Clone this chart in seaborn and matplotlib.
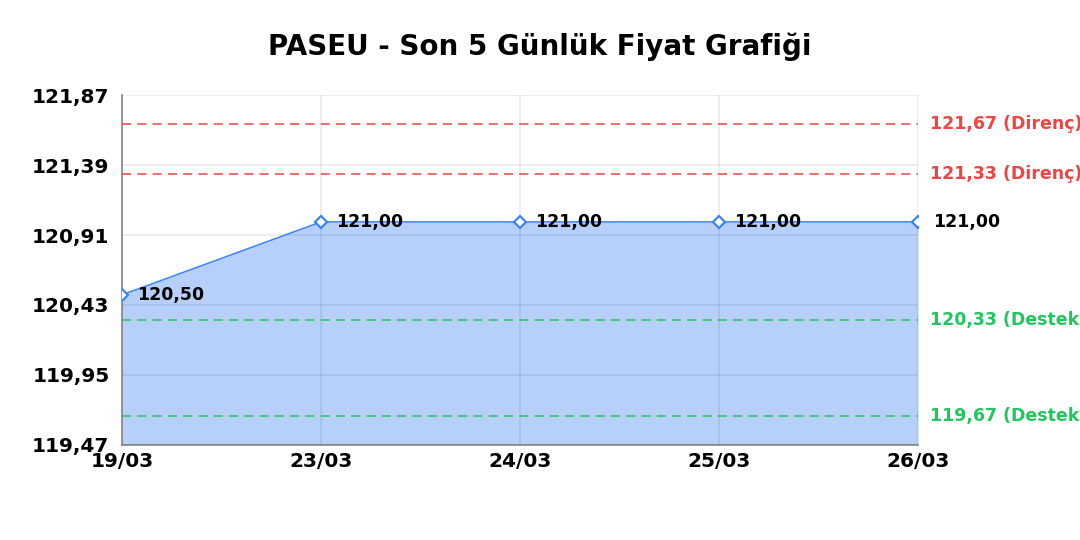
import matplotlib
matplotlib.use('Agg')
import matplotlib.pyplot as plt
import seaborn as sns
import pandas as pd

# chart data
dates = ['19/03', '23/03', '24/03', '25/03', '26/03']
prices = [120.50, 121.00, 121.00, 121.00, 121.00]
resistance = [121.67, 121.33]
support = [120.33, 119.67]
y_ticks = [119.47, 119.95, 120.43, 120.91, 121.39, 121.87]

df = pd.DataFrame({'idx': range(len(dates)), 'price': prices})

sns.set_style('whitegrid')
plt.rcParams['font.family'] = ['DejaVu Sans']
plt.rcParams['text.color'] = 'black'

fig = plt.figure(figsize=(10.8, 5.4), dpi=100)
ax = fig.add_axes([0.113, 0.176, 0.737, 0.648])

blue = '#3b82f6'
ax.fill_between(df['idx'], df['price'], y_ticks[0], color=blue, alpha=0.37, linewidth=0, zorder=1)
sns.lineplot(data=df, x='idx', y='price', ax=ax, color=blue, linewidth=1.1,
             marker='D', markersize=6.5, markerfacecolor='white',
             markeredgecolor=blue, markeredgewidth=1.6, zorder=4)

def fmt(v):
    return f'{v:.2f}'.replace('.', ',')

for i, p in enumerate(prices):
    ax.annotate(fmt(p), (i, p), xytext=(11, 0), textcoords='offset points',
                ha='left', va='center', fontsize=12.5, fontweight='bold',
                color='black', zorder=5, annotation_clip=False)

for r in resistance:
    ax.axhline(r, color='#ef4444', linestyle=(0, (6, 4)), linewidth=1.1, zorder=3)
    ax.annotate(f'{fmt(r)} (Direnç)', (1, r), xycoords=('axes fraction', 'data'),
                xytext=(8.5, 0), textcoords='offset points', ha='left', va='center',
                fontsize=12.5, fontweight='bold', color='#ef4444', annotation_clip=False)
for s in support:
    ax.axhline(s, color='#22c55e', linestyle=(0, (6, 4)), linewidth=1.1, zorder=3)
    ax.annotate(f'{fmt(s)} (Destek)', (1, s), xycoords=('axes fraction', 'data'),
                xytext=(8.5, 0), textcoords='offset points', ha='left', va='center',
                fontsize=12.5, fontweight='bold', color='#22c55e', annotation_clip=False)

ax.set_xlim(0, len(dates) - 1)
ax.set_ylim(y_ticks[0], y_ticks[-1])
ax.set_xticks(range(len(dates)))
ax.set_xticklabels(dates, fontsize=14.5, fontweight='bold', color='black')
ax.set_yticks(y_ticks)
ax.set_yticklabels([fmt(t) for t in y_ticks], fontsize=14.5, fontweight='bold', color='black')
ax.tick_params(axis='both', length=0)
ax.tick_params(axis='y', pad=9)
ax.tick_params(axis='x', pad=5)
ax.set_xlabel('')
ax.set_ylabel('')
ax.grid(True, color='#000000', alpha=0.08, linewidth=1.2, zorder=2)
ax.set_axisbelow(False)
for side in ['top', 'right']:
    ax.spines[side].set_visible(False)
for side in ['left', 'bottom']:
    ax.spines[side].set_color('#888888')
    ax.spines[side].set_linewidth(1.2)

fig.suptitle('PASEU - Son 5 Günlük Fiyat Grafiği', fontsize=20, fontweight='bold',
             color='black', y=0.94)

fig.savefig('out.png', dpi=100)
